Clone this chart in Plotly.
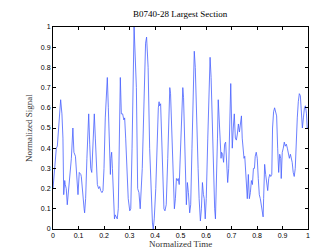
import plotly.graph_objects as go

time = [0.000, 0.0065, 0.013, 0.017, 0.022, 0.026, 0.030, 0.035, 0.039, 0.042, 0.046, 0.048, 0.052, 0.056, 0.061, 0.067, 0.072, 0.078, 0.082, 0.088,
        0.093, 0.098, 0.103, 0.109, 0.111, 0.116, 0.122, 0.124, 0.128, 0.133, 0.137, 0.140, 0.144, 0.148, 0.152, 0.156, 0.159, 0.162, 0.166, 0.170,
        0.174, 0.179, 0.183, 0.187, 0.192, 0.196, 0.200, 0.205, 0.210, 0.213, 0.217, 0.221, 0.225, 0.227, 0.230, 0.233, 0.237, 0.241, 0.244, 0.248,
        0.252, 0.256, 0.259, 0.261, 0.264, 0.268, 0.273, 0.278, 0.281, 0.285, 0.289, 0.292, 0.295, 0.301, 0.305, 0.310, 0.314, 0.318,
        0.327, 0.332, 0.337, 0.342, 0.350, 0.357, 0.363, 0.367, 0.373, 0.379, 0.386, 0.390, 0.393, 0.397, 0.403, 0.408, 0.413, 0.416, 0.418, 0.422,
        0.426, 0.431, 0.435, 0.439, 0.444, 0.450, 0.454, 0.458, 0.461, 0.465, 0.471, 0.476, 0.480, 0.484, 0.488, 0.491, 0.495, 0.499, 0.505, 0.509,
        0.512, 0.516, 0.520, 0.523, 0.527, 0.531, 0.536, 0.540, 0.545, 0.550, 0.554, 0.558, 0.563, 0.569, 0.573, 0.578, 0.582, 0.586, 0.590, 0.593,
        0.597, 0.601, 0.607, 0.612, 0.616, 0.620, 0.625, 0.630, 0.634, 0.637, 0.641, 0.645,
        0.648, 0.651, 0.655, 0.659, 0.661, 0.665, 0.669, 0.673, 0.677, 0.681, 0.685, 0.689, 0.693, 0.697, 0.701, 0.703, 0.707, 0.711, 0.715, 0.719,
        0.723, 0.727, 0.731, 0.735, 0.739, 0.742, 0.746, 0.749, 0.752, 0.756, 0.759, 0.762, 0.766, 0.770, 0.774, 0.778, 0.782, 0.786, 0.790, 0.793,
        0.797, 0.801, 0.805, 0.809, 0.813, 0.817, 0.821, 0.824, 0.826, 0.830, 0.834, 0.838, 0.842, 0.846, 0.850, 0.854, 0.858, 0.861, 0.865, 0.869,
        0.873, 0.877, 0.881, 0.885, 0.889, 0.893, 0.895, 0.899, 0.903, 0.907, 0.911, 0.915, 0.919, 0.923, 0.927, 0.931, 0.935, 0.938, 0.942, 0.946,
        0.950, 0.954, 0.958, 0.962, 0.966, 0.970, 0.974, 0.978, 0.982, 0.986, 0.990, 0.994, 0.997, 1.000]

signal = [0.20, 0.30, 0.40, 0.41, 0.50, 0.55, 0.64, 0.57, 0.45, 0.17, 0.24, 0.22, 0.20, 0.12, 0.20, 0.25, 0.35, 0.50, 0.38, 0.36,
          0.25, 0.17, 0.28, 0.27, 0.26, 0.17, 0.10, 0.08, 0.15, 0.35, 0.55, 0.57, 0.42, 0.30, 0.28, 0.40, 0.55, 0.57, 0.45, 0.33,
          0.22, 0.20, 0.21, 0.19, 0.18, 0.19, 0.30, 0.55, 0.70, 0.75, 0.60, 0.40, 0.27, 0.35, 0.38, 0.30, 0.15, 0.05, 0.07, 0.06,
          0.05, 0.10, 0.30, 0.60, 0.75, 0.57, 0.57, 0.54, 0.55, 0.45, 0.30, 0.22, 0.15, 0.09, 0.10, 0.40, 0.75, 1.00,
          0.70, 0.20, 0.18, 0.10, 0.30, 0.70, 0.92, 0.95, 0.80, 0.40, 0.10, 0.03, 0.00, 0.05, 0.20, 0.45, 0.60, 0.63, 0.61, 0.62,
          0.45, 0.25, 0.10, 0.09, 0.12, 0.35, 0.60, 0.70, 0.67, 0.50, 0.25, 0.10, 0.15, 0.25, 0.24, 0.25, 0.22, 0.35, 0.60, 0.70,
          0.65, 0.45, 0.25, 0.12, 0.23, 0.18, 0.08, 0.12, 0.40, 0.75, 0.88, 0.80, 0.50, 0.30, 0.15, 0.04, 0.10, 0.23, 0.17, 0.15,
          0.05, 0.15, 0.45, 0.75, 0.85, 0.75, 0.50, 0.30, 0.10, 0.05, 0.20, 0.45,
          0.64, 0.55, 0.40, 0.35, 0.38, 0.37, 0.33, 0.42, 0.43, 0.30, 0.23, 0.30, 0.55, 0.72, 0.50, 0.40, 0.50, 0.57, 0.45, 0.44,
          0.47, 0.52, 0.48, 0.52, 0.56, 0.45, 0.37, 0.35, 0.36, 0.25, 0.20, 0.15, 0.27, 0.15, 0.18, 0.24, 0.22, 0.30, 0.30, 0.36,
          0.38, 0.35, 0.25, 0.17, 0.15, 0.12, 0.10, 0.06, 0.15, 0.32, 0.27, 0.23, 0.19, 0.25, 0.27, 0.26, 0.27, 0.50, 0.58, 0.60,
          0.57, 0.56, 0.40, 0.28, 0.37, 0.35, 0.25, 0.38, 0.40, 0.43, 0.41, 0.42, 0.40, 0.37, 0.35, 0.37, 0.35, 0.33, 0.28, 0.26,
          0.30, 0.45, 0.55, 0.63, 0.67, 0.66, 0.60, 0.50, 0.55, 0.60, 0.61, 0.57, 0.50, 0.50]

tick_vals = [0, 0.1, 0.2, 0.3, 0.4, 0.5, 0.6, 0.7, 0.8, 0.9, 1]
tick_text = ["0", "0.1", "0.2", "0.3", "0.4", "0.5", "0.6", "0.7", "0.8", "0.9", "1"]

fig = go.Figure()
fig.add_trace(go.Scatter(x=time, y=signal, mode="lines",
                         line=dict(color="rgb(70,95,255)", width=0.8), showlegend=False))

axis_common = dict(range=[0, 1], tickvals=tick_vals, ticktext=tick_text,
                   ticks="inside", ticklen=3, tickwidth=1, tickcolor="black",
                   showline=True, linecolor="black", linewidth=1, mirror="ticks",
                   showgrid=False, zeroline=False,
                   tickfont=dict(family="Liberation Sans, Arial", size=7, color="black"))

serif = dict(family="Liberation Serif, Times New Roman", size=9, color="#333")

fig.update_layout(
    width=332, height=249,
    margin=dict(l=45, r=32, t=19, b=28),
    paper_bgcolor="white", plot_bgcolor="white",
    xaxis=axis_common,
    yaxis=axis_common,
    annotations=[
        dict(text="B0740-28 Largest Section", x=0.5, xref="paper", y=1, yref="paper",
             yanchor="middle", xanchor="center", yshift=13, showarrow=False,
             font=dict(family="Liberation Serif, Times New Roman", size=9, color="black")),
        dict(text="Normalized Time", x=0.5, xref="paper", y=0, yref="paper",
             yanchor="middle", xanchor="center", yshift=-15, showarrow=False, font=serif),
        dict(text="Normalized Signal", x=0, xref="paper", y=0.5, yref="paper",
             yanchor="middle", xanchor="center", xshift=-24, textangle=-90,
             showarrow=False, font=serif),
    ],
)

fig.write_html("out.html")
